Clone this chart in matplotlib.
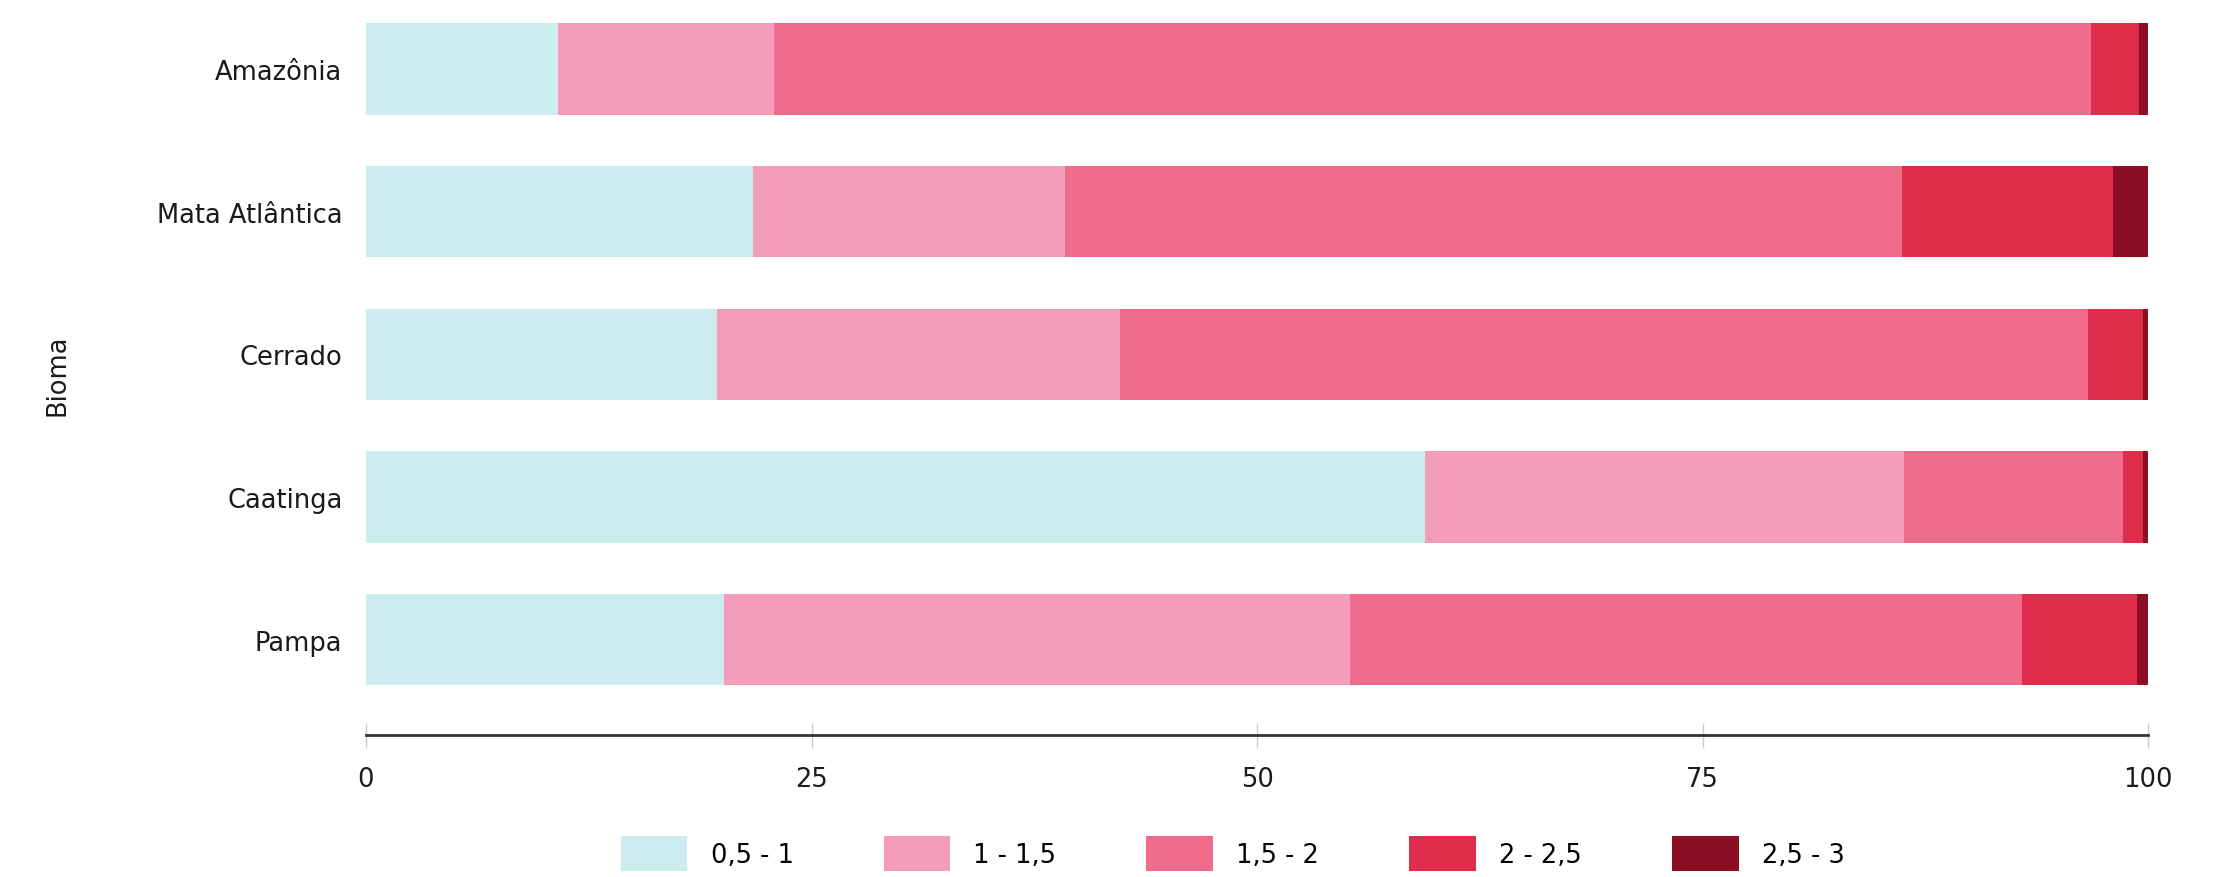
import matplotlib.pyplot as plt
import numpy as np

plt.rcParams['font.family'] = ['DejaVu Sans']

# dados (percentual por classe)
biomas = ["Amazônia", "Mata Atlântica", "Cerrado", "Caatinga", "Pampa"]
classes = ["0,5 - 1", "1 - 1,5", "1,5 - 2", "2 - 2,5", "2,5 - 3"]
v_05_1 = [10.8, 21.7, 19.7, 59.4, 20.1]
v_1_15 = [12.1, 17.5, 22.6, 26.9, 35.1]
v_15_2 = [73.9, 47.0, 54.3, 12.3, 37.7]
v_2_25 = [2.7, 11.8, 3.1, 1.1, 6.5]
v_25_3 = [0.5, 2.0, 0.3, 0.3, 0.6]
cores = ["#CBEDF0", "#F49DBA", "#F16B8C", "#DE2D4B", "#8B0E23"]

series = [v_05_1, v_1_15, v_15_2, v_2_25, v_25_3]

fs = 18.5

fig = plt.figure(figsize=(22.33, 8.78), dpi=100)
ax = fig.add_axes([0.1639, 0.1617, 0.9620 - 0.1639, 1 - 0.1617])

y = np.arange(len(biomas))[::-1]
left = np.zeros(len(biomas))
for vals, cor, nome in zip(series, cores, classes):
    ax.barh(y, vals, left=left, height=0.64, color=cor, label=nome, linewidth=0)
    left += np.array(vals)

ax.set_xlim(0, 100)
ax.set_ylim(-0.668, 4.49)
ax.set_xticks([0, 25, 50, 75, 100])
ax.set_xticklabels(["0", "25", "50", "75", "100"])
ax.set_yticks(y)
ax.set_yticklabels(biomas)

for s in ["top", "right", "left"]:
    ax.spines[s].set_visible(False)
ax.spines["bottom"].set_color("#333333")
ax.spines["bottom"].set_linewidth(2)

ax.tick_params(axis="x", direction="inout", length=18, width=1, color="#cccccc",
               labelsize=fs, pad=13, labelcolor="#1a1a1a")
ax.tick_params(axis="y", length=0, labelsize=fs, pad=17, labelcolor="#1a1a1a")
ax.set_ylabel("Bioma", fontsize=fs, color="#1a1a1a")
ax.yaxis.set_label_coords(-0.166, 0.49)

fig.legend(loc="center", bbox_to_anchor=(0.552, 0.027), ncol=5, frameon=False,
           fontsize=fs, handlelength=2.6, handleheight=1.7, handletextpad=0.9,
           columnspacing=3.5)

fig.savefig("out.png", dpi=100)
